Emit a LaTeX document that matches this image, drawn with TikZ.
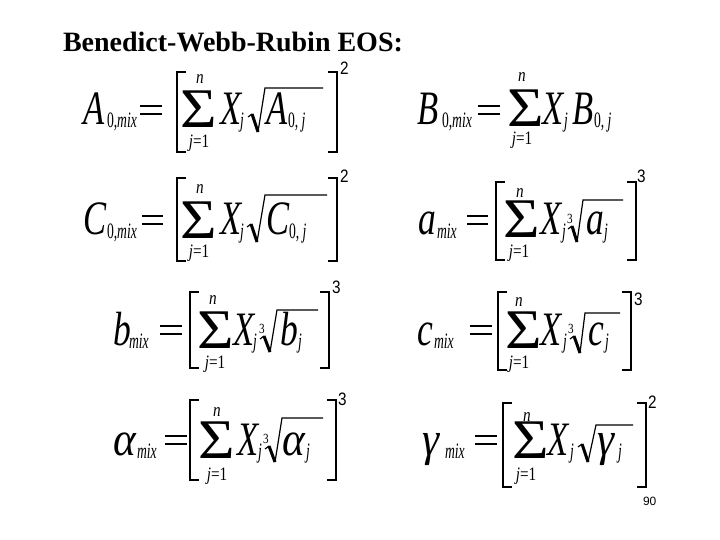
\documentclass[tikz,border=0pt]{standalone}
\usepackage{fontspec}
\usepackage{graphicx}
\setmainfont{Liberation Serif}
\newfontfamily\arialf{Liberation Sans}
\newcommand{\bigL}[1]{\scalebox{0.72}[1]{\fontsize{48}{48}\selectfont\itshape #1}}
\newcommand{\lowL}[1]{\scalebox{0.74}[1]{\fontsize{48}{48}\selectfont\itshape #1}}
\newcommand{\grL}[1]{\scalebox{0.9}[1]{\fontsize{48}{48}\selectfont\itshape #1}}
\newcommand{\subL}[1]{\scalebox{0.62}[1]{\fontsize{22}{22}\selectfont\itshape #1}}
\newcommand{\limL}[1]{\scalebox{0.8}[1]{\fontsize{19}{19}\selectfont\itshape #1}}
\newcommand{\supL}[1]{\scalebox{0.85}[1]{\fontsize{18}{18}\selectfont\arialf #1}}
\newcommand{\idxL}[1]{\scalebox{0.8}[1]{\fontsize{14}{14}\selectfont #1}}
\newcommand{\sig}{\scalebox{1.12}[1]{\fontsize{56}{56}\selectfont Σ}}
\tikzset{
  t/.style={inner sep=0pt, outer sep=0pt, anchor=base west},
  tc/.style={inner sep=0pt, outer sep=0pt, anchor=base},
  sg/.style={t, text height=36pt, text depth=0pt},
  brk/.style={line width=2.6pt, line join=miter},
  eqs/.style={line width=2pt},
  thinr/.style={line width=1.2pt, line join=miter},
  thickr/.style={line width=3pt}
}
\begin{document}
\begin{tikzpicture}[x=1pt,y=-1pt]
\useasboundingbox (0,0) rectangle (720,540);
\node[t] (title) at (63,52) {\fontsize{28}{28}\selectfont\bfseries Benedict-Webb-Rubin EOS:};
% ---------- Eq 1: A0
\node[t] (e1L) at (83,125) {\bigL{A}};
\node[t] (e1Ls) at (107,128) {\subL{{\upshape 0,}mix}};
\draw[eqs] (140,106) -- (162,106) (140,114) -- (162,114);
\draw[brk] (186,72) -- (177,72) -- (177,152) -- (186,152);
\node[sg] (e1S) at (180,128) {\sig};
\node[tc] (e1n) at (200,84) {\limL{n}};
\node[tc] (e1j) at (199,148) {\limL{j{\upshape =1}}};
\node[t] (e1X) at (220,125) {\bigL{X}};
\node[t] (e1Xj) at (240,128) {\subL{j}};
\draw[thinr] (248,117) -- (252,114);
\draw[thickr] (252,114) -- (258,132);
\draw[thinr] (258,132) -- (265,88) -- (323,88);
\node[t] (e1R) at (266,125) {\bigL{A}};
\node[t] (e1Rs) at (288,128) {\subL{{\upshape 0,} j}};
\draw[brk] (328,72) -- (337,72) -- (337,152) -- (328,152);
\node[t] (e1p) at (340,75) {\supL{2}};
% ---------- Eq 2: B0
\node[t] (e2L) at (417,125) {\bigL{B}};
\node[t] (e2Ls) at (442,128) {\subL{{\upshape 0,}mix}};
\draw[eqs] (478,106) -- (500,106) (478,114) -- (500,114);
\node[sg] (e2S) at (507,127) {\sig};
\node[tc] (e2n) at (522,82) {\limL{n}};
\node[tc] (e2j) at (522,145) {\limL{j{\upshape =1}}};
\node[t] (e2X) at (542,125) {\bigL{X}};
\node[t] (e2Xj) at (564,128) {\subL{j}};
\node[t] (e2R) at (572,125) {\bigL{B}};
\node[t] (e2Rs) at (594,128) {\subL{{\upshape 0,} j}};
% ---------- Eq 3: C0
\node[t] (e3L) at (83,235) {\bigL{C}};
\node[t] (e3Ls) at (107,238) {\subL{{\upshape 0,}mix}};
\draw[eqs] (142,216) -- (163,216) (142,224) -- (163,224);
\draw[brk] (186,178) -- (177,178) -- (177,261) -- (186,261);
\node[sg] (e3S) at (180,238) {\sig};
\node[tc] (e3n) at (200,194) {\limL{n}};
\node[tc] (e3j) at (199,258) {\limL{j{\upshape =1}}};
\node[t] (e3X) at (220,235) {\bigL{X}};
\node[t] (e3Xj) at (240,238) {\subL{j}};
\draw[thinr] (247,227) -- (251,224);
\draw[thickr] (251,224) -- (257,242);
\draw[thinr] (257,242) -- (265,195) -- (327,195);
\node[t] (e3R) at (266,235) {\bigL{C}};
\node[t] (e3Rs) at (289,238) {\subL{{\upshape 0,} j}};
\draw[brk] (328,178) -- (337,178) -- (337,261) -- (328,261);
\node[t] (e3p) at (340,183) {\supL{2}};
% ---------- Eq 4: a
\node[t] (e4L) at (418,235) {\lowL{a}};
\node[t] (e4Ls) at (437,238) {\subL{mix}};
\draw[eqs] (467,216) -- (488,216) (467,224) -- (488,224);
\draw[brk] (505,182) -- (496,182) -- (496,260) -- (505,260);
\node[sg] (e4S) at (503,237) {\sig};
\node[tc] (e4n) at (520,197) {\limL{n}};
\node[tc] (e4j) at (519,258) {\limL{j{\upshape =1}}};
\node[t] (e4X) at (540,235) {\bigL{X}};
\node[t] (e4Xj) at (562,238) {\subL{j}};
\node[t] (e4i) at (567,223) {\idxL{3}};
\draw[thinr] (568,229) -- (572,226);
\draw[thickr] (572,226) -- (577,242);
\draw[thinr] (577,242) -- (583,200) -- (623,200);
\node[t] (e4R) at (586,235) {\lowL{a}};
\node[t] (e4Rs) at (604,238) {\subL{j}};
\draw[brk] (627,182) -- (636,182) -- (636,260) -- (627,260);
\node[t] (e4p) at (637,183) {\supL{3}};
% ---------- Eq 5: b
\node[t] (e5L) at (113,345) {\lowL{b}};
\node[t] (e5Ls) at (129,348) {\subL{mix}};
\draw[eqs] (160,326) -- (182,326) (160,334) -- (182,334);
\draw[brk] (199,292) -- (190,292) -- (190,368) -- (199,368);
\node[sg] (e5S) at (197,348) {\sig};
\node[tc] (e5n) at (213,304) {\limL{n}};
\node[tc] (e5j) at (215,368) {\limL{j{\upshape =1}}};
\node[t] (e5X) at (233,345) {\bigL{X}};
\node[t] (e5Xj) at (253,348) {\subL{j}};
\node[t] (e5i) at (259,333) {\idxL{3}};
\draw[thinr] (260,339) -- (264,336);
\draw[thickr] (264,336) -- (270,352);
\draw[thinr] (270,352) -- (277,310) -- (318,310);
\node[t] (e5R) at (280,345) {\lowL{b}};
\node[t] (e5Rs) at (298,348) {\subL{j}};
\draw[brk] (320,292) -- (329,292) -- (329,368) -- (320,368);
\node[t] (e5p) at (332,293) {\supL{3}};
% ---------- Eq 6: c
\node[t] (e6L) at (417,345) {\lowL{c}};
\node[t] (e6Ls) at (434,348) {\subL{mix}};
\draw[eqs] (470,326) -- (492,326) (470,334) -- (492,334);
\draw[brk] (507,292) -- (498,292) -- (498,370) -- (507,370);
\node[sg] (e6S) at (505,348) {\sig};
\node[tc] (e6n) at (519,306) {\limL{n}};
\node[tc] (e6j) at (519,368) {\limL{j{\upshape =1}}};
\node[t] (e6X) at (540,345) {\bigL{X}};
\node[t] (e6Xj) at (563,348) {\subL{j}};
\node[t] (e6i) at (568,333) {\idxL{3}};
\draw[thinr] (570,339) -- (574,336);
\draw[thickr] (574,336) -- (580,353);
\draw[thinr] (580,353) -- (585,313) -- (620,313);
\node[t] (e6R) at (588,345) {\lowL{c}};
\node[t] (e6Rs) at (605,348) {\subL{j}};
\draw[brk] (622,292) -- (631,292) -- (631,370) -- (622,370);
\node[t] (e6p) at (634,305) {\supL{3}};
% ---------- Eq 7: alpha
\node[t] (e7L) at (113,455) {\grL{α}};
\node[t] (e7Ls) at (137,458) {\subL{mix}};
\draw[eqs] (165,436) -- (187,436) (165,444) -- (187,444);
\draw[brk] (199,400) -- (190,400) -- (190,480) -- (199,480);
\node[sg] (e7S) at (198,458) {\sig};
\node[tc] (e7n) at (217,416) {\limL{n}};
\node[tc] (e7j) at (217,480) {\limL{j{\upshape =1}}};
\node[t] (e7X) at (237,455) {\bigL{X}};
\node[t] (e7Xj) at (258,458) {\subL{j}};
\node[t] (e7i) at (263,443) {\idxL{3}};
\draw[thinr] (265,449) -- (269,446);
\draw[thickr] (269,446) -- (275,462);
\draw[thinr] (275,462) -- (282,418) -- (323,418);
\node[t] (e7R) at (282,455) {\grL{α}};
\node[t] (e7Rs) at (306,458) {\subL{j}};
\draw[brk] (327,400) -- (336,400) -- (336,480) -- (327,480);
\node[t] (e7p) at (338,405) {\supL{3}};
% ---------- Eq 8: gamma
\node[t] (e8L) at (422,455) {\grL{γ}};
\node[t] (e8Ls) at (445,458) {\subL{mix}};
\draw[eqs] (475,436) -- (497,436) (475,444) -- (497,444);
\draw[brk] (512,403) -- (503,403) -- (503,487) -- (512,487);
\node[sg] (e8S) at (512,458) {\sig};
\node[tc] (e8n) at (527,421) {\limL{n}};
\node[tc] (e8j) at (526,480) {\limL{j{\upshape =1}}};
\node[t] (e8X) at (547,455) {\bigL{X}};
\node[t] (e8Xj) at (570,458) {\subL{j}};
\draw[thinr] (578,447) -- (582,444);
\draw[thickr] (582,444) -- (588,462);
\draw[thinr] (588,462) -- (596,425) -- (633,425);
\node[t] (e8R) at (597,455) {\grL{γ}};
\node[t] (e8Rs) at (618,458) {\subL{j}};
\draw[brk] (637,403) -- (646,403) -- (646,487) -- (637,487);
\node[t] (e8p) at (648,408) {\supL{2}};
% page number
\node[t] (pg) at (643,505) {\fontsize{12}{12}\selectfont\arialf 90};
\end{tikzpicture}
\end{document}
